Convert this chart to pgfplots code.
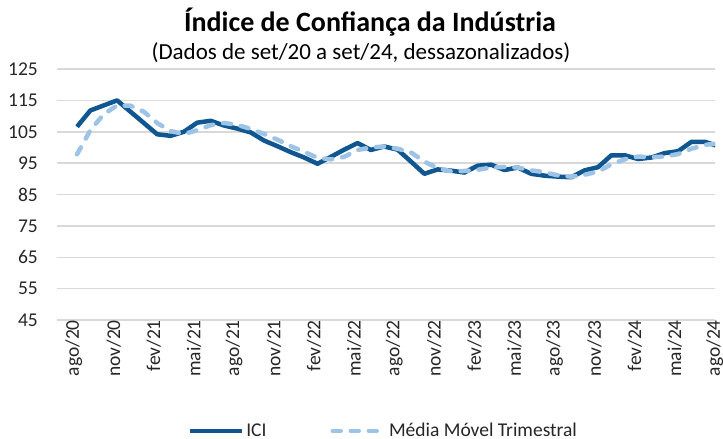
\documentclass[border=0pt]{standalone}
\usepackage{fontspec}
\setmainfont{Carlito}
\usepackage{pgfplots}
\pgfplotsset{compat=1.18}
\usepackage{pgfplotstable}
\definecolor{ici}{HTML}{105791}
\definecolor{mm}{HTML}{9DC3E6}
\definecolor{gridc}{HTML}{D9D9D9}
\definecolor{txt}{HTML}{262626}

\pgfplotstableread{
m v
1 106.6
2 111.8
3 113.4
4 115.0
5 111.4
6 107.8
7 104.2
8 103.7
9 105.0
10 107.9
11 108.5
12 107.0
13 106.0
14 104.8
15 102.2
16 100.4
17 98.5
18 96.8
19 94.8
20 97.0
21 99.3
22 101.4
23 99.2
24 100.3
25 99.3
26 95.5
27 91.6
28 93.0
29 92.6
30 92.0
31 94.2
32 94.5
33 92.8
34 93.6
35 91.6
36 91.0
37 90.7
38 90.5
39 92.7
40 93.7
41 97.5
42 97.5
43 96.3
44 96.8
45 98.2
46 98.8
47 101.8
48 101.8
49 100.4
}\icidata

\pgfplotstableread{
m v
1 97.8
2 105.5
3 110.6
4 113.4
5 113.3
6 111.4
7 107.8
8 105.2
9 104.3
10 105.5
11 107.1
12 107.8
13 107.2
14 105.9
15 104.3
16 102.5
17 100.4
18 98.6
19 96.7
20 96.2
21 97.0
22 99.2
23 100.0
24 100.3
25 99.6
26 98.4
27 95.5
28 93.4
29 92.4
30 92.5
31 92.9
32 93.6
33 93.8
34 93.6
35 92.7
36 92.1
37 91.1
38 90.7
39 91.3
40 92.3
41 94.6
42 96.2
43 97.1
44 96.9
45 97.1
46 97.9
47 99.6
48 100.8
49 101.3
}\mmdata

\begin{document}
\begin{tikzpicture}
\useasboundingbox (0,0) rectangle (723pt,-439pt);
\node[font=\fontsize{28}{32}\selectfont\bfseries, text=black] at (370pt,-22pt) {Índice de Confiança da Indústria};
\node[font=\fontsize{23}{27}\selectfont, text=black] at (361pt,-53pt) {(Dados de set/20 a set/24, dessazonalizados)};
\begin{axis}[
  at={(57pt,-320pt)}, anchor=south west,
  scale only axis, width=658pt, height=251pt,
  xmin=-0.5, xmax=48.76, ymin=45, ymax=125,
  ytick={45,55,...,125},
  xtick={0,3,...,48},
  xticklabels={ago/20,nov/20,fev/21,mai/21,ago/21,nov/21,fev/22,mai/22,ago/22,nov/22,fev/23,mai/23,ago/23,nov/23,fev/24,mai/24,ago/24},
  axis line style={draw=none},
  ymajorgrids, major grid style={gridc, line width=1.5pt},
  major tick length=0pt,
  font=\fontsize{19.5}{22}\selectfont,
  tick label style={text=txt},
  xticklabel style={rotate=90, anchor=east, inner sep=0pt, yshift=-10pt},
  yticklabel style={anchor=east, inner sep=0pt, xshift=-19pt},
  /pgf/number format/assume math mode=true,
  legend style={at={(0.496,-0.442)}, anchor=center, draw=none, fill=none,
    legend columns=2, font=\fontsize{19.5}{22}\selectfont, text=txt,
    /tikz/every even column/.append style={column sep=62pt}},
  legend cell align=left,
  legend image code/.code={\draw[#1] (0pt,0pt) -- (52pt,0pt);},
]
\addplot[ici, line width=4.5pt, line join=round] table[x=m,y=v] {\icidata};
\addlegendentry{ICI}
\addplot[mm, line width=4.5pt, line join=round, line cap=round, dash pattern=on 8pt off 10pt] table[x=m,y=v] {\mmdata};
\addlegendentry{Média Móvel Trimestral}
\end{axis}
\end{tikzpicture}
\end{document}
